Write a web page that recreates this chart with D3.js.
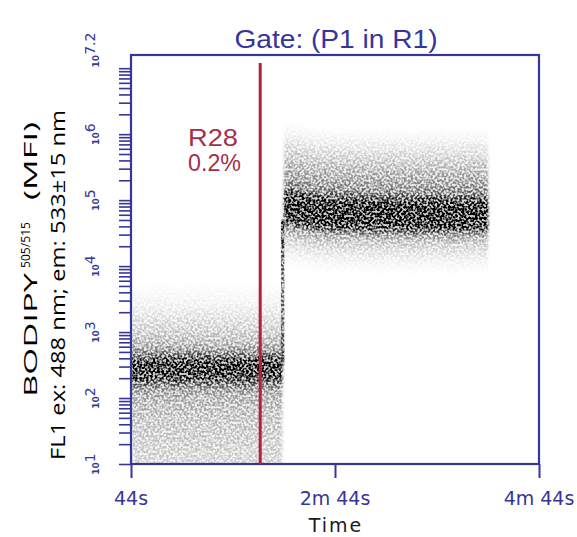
<!DOCTYPE html>
<html>
<head>
<meta charset="utf-8">
<script src="https://cdn.jsdelivr.net/npm/d3@7"></script>
<style>
  body { margin: 0; background: #fff; }
  svg { display: block; }
</style>
</head>
<body>
<svg id="chart" width="577" height="537"></svg>
<script>

// axis ticks
var decades = [1, 2, 3, 4, 5, 6, 7.2];
var xTickSec = [44, 164, 284];
var xTickLabels = ["44s", "2m 44s", "4m 44s"];

// gate line
var gateSec = 120;
var gateName = "R28";
var gatePct = "0.2%";

// density profile: offset from the bin median (decades) -> relative density
var offsets  = [-1.5,-1.4,-1.3,-1.2,-1.1,-1.0,-0.9,-0.8,-0.7,-0.6,-0.5,-0.4,-0.3,-0.2,-0.1,0,0.1,0.2,0.3,0.4,0.5,0.6,0.7,0.8,0.9,1.0,1.1,1.2,1.3];
var profile1 = [.15,.16,.17,.18,.19,.20,.21,.22,.24,.26,.28,.31,.40,.65,.88,.95,.85,.55,.34,.26,.21,.17,.14,.10,.07,.045,.03,.015,0];
var profile2 = [0,0,0,0,0,0,0,.02,.05,.09,.15,.23,.36,.78,.98,1,.98,.85,.52,.41,.35,.30,.25,.20,.15,.10,.06,.03,0];

// before dye (seconds, log10 median)
var phase1Start = [44, 50, 56, 62, 68, 74, 80, 86, 92, 98, 104, 110, 116, 122, 128];
var phase1Med   = [2.45, 2.44, 2.46, 2.45, 2.44, 2.45, 2.46, 2.45, 2.44, 2.45, 2.45, 2.44, 2.45, 2.46, 2.45];
var phase1End = 133;

// after dye
var phase2Start = [134, 140, 146, 152, 158, 164, 170, 176, 182, 188, 194, 200, 206, 212, 218, 224, 230, 236, 242, 248];
var phase2Med   = [4.88, 4.85, 4.82, 4.80, 4.79, 4.78, 4.79, 4.78, 4.77, 4.77, 4.78, 4.77, 4.76, 4.77, 4.78, 4.77, 4.76, 4.77, 4.78, 4.77];
var phase2End = 254;

// the jump
var transSec = [132.2, 134.2];
var transLog = [2.6, 2.8, 3.0, 3.2, 3.4, 3.6, 3.8, 4.0, 4.2, 4.4, 4.6];
var transDen = [.6, .55, .55, .5, .5, .5, .5, .55, .6, .65, .7];

var svg = d3.select("#chart"),
    margin = {top: 55, right: 38, bottom: 73, left: 131},
    width = +svg.attr("width") - margin.left - margin.right,
    height = +svg.attr("height") - margin.top - margin.bottom;

var blue = "#35359a";

var x = d3.scaleLinear()
    .domain([44, 284])
    .range([margin.left, margin.left + width]);

var y = d3.scaleLog()
    .domain([10, Math.pow(10, 7.2)])
    .range([margin.top + height, margin.top]);

var defs = svg.append("defs");

defs.append("clipPath").attr("id", "plotclip")
  .append("rect")
    .attr("x", margin.left).attr("y", margin.top)
    .attr("width", width).attr("height", height);

// blur the cells, then break them into speckles
function grain(id, blur, seed) {
  var f = defs.append("filter")
      .attr("id", id)
      .attr("filterUnits", "userSpaceOnUse")
      .attr("x", margin.left).attr("y", margin.top)
      .attr("width", width).attr("height", height)
      .attr("color-interpolation-filters", "sRGB");
  f.append("feGaussianBlur").attr("in", "SourceGraphic").attr("stdDeviation", blur).attr("result", "b");
  f.append("feTurbulence").attr("type", "fractalNoise").attr("baseFrequency", 0.45)
      .attr("numOctaves", 1).attr("seed", seed).attr("result", "t");
  f.append("feColorMatrix").attr("in", "t").attr("type", "matrix")
      .attr("values", "0 0 0 0 0  0 0 0 0 0  0 0 0 0 0  4 0 0 0 -1.5").attr("result", "n");
  f.append("feComposite").attr("in", "b").attr("in2", "n").attr("operator", "arithmetic")
      .attr("k1", 1.15).attr("k2", 0.22).attr("k3", 0).attr("k4", 0);
}
grain("grain", "1.8 3.4", 7);
grain("grainThin", "0.7 1.8", 11);

// density cells
var cells = [];
function addPhase(starts, meds, end, profile) {
  starts.forEach(function(t0, i) {
    var t1 = i < starts.length - 1 ? starts[i + 1] : end;
    offsets.forEach(function(o, j) {
      if (profile[j] > 0) cells.push({t0: t0, t1: t1, v: meds[i] + o, d: profile[j]});
    });
  });
}
addPhase(phase1Start, phase1Med, phase1End, profile1);
addPhase(phase2Start, phase2Med, phase2End, profile2);

var plot = svg.append("g").attr("clip-path", "url(#plotclip)");

plot.append("g")
    .attr("filter", "url(#grain)")
  .selectAll("rect")
  .data(cells)
  .enter().append("rect")
    .attr("x", function(d) { return x(d.t0); })
    .attr("width", function(d) { return x(d.t1) - x(d.t0); })
    .attr("y", function(d) { return y(Math.pow(10, d.v + 0.05)); })
    .attr("height", function(d) { return y(Math.pow(10, d.v - 0.05)) - y(Math.pow(10, d.v + 0.05)); })
    .attr("fill", "#000")
    .attr("fill-opacity", function(d) { return d.d; });

plot.append("g")
    .attr("filter", "url(#grainThin)")
  .selectAll("rect")
  .data(transLog)
  .enter().append("rect")
    .attr("x", x(transSec[0]))
    .attr("width", x(transSec[1]) - x(transSec[0]))
    .attr("y", function(d) { return y(Math.pow(10, d + 0.1)); })
    .attr("height", function(d) { return y(Math.pow(10, d - 0.1)) - y(Math.pow(10, d + 0.1)); })
    .attr("fill", "#000")
    .attr("fill-opacity", function(d, i) { return transDen[i]; });

// y ticks: 1..9 per decade
var yTicks = [];
for (var e = 1; e <= 7; e++) {
  for (var k = 1; k <= 9; k++) {
    var v = k * Math.pow(10, e);
    if (v <= Math.pow(10, 7.2)) yTicks.push(v);
  }
}

svg.append("g")
    .attr("transform", "translate(" + margin.left + ",0)")
    .call(d3.axisLeft(y).tickValues(yTicks).tickSize(12).tickFormat(""))
    .call(function(g) { g.select(".domain").remove(); })
    .call(function(g) { g.selectAll(".tick line").attr("stroke", blue).attr("stroke-width", 1.6); });

var ylab = svg.append("g").selectAll("g")
  .data(decades)
  .enter().append("g")
    .attr("transform", function(d) { return "translate(99," + (y(Math.pow(10, d)) - (d > 7 ? 5 : 0)) + ") rotate(-90)"; });
var yt = ylab.append("text")
    .attr("text-anchor", "middle")
    .attr("fill", blue)
    .style("font-family", "DejaVu Sans");
yt.append("tspan").attr("font-size", 9).attr("font-weight", "bold").text("10");
yt.append("tspan").attr("font-size", 14).attr("dy", -4).text(function(d) { return d; });

// x axis
svg.append("g")
    .attr("transform", "translate(0," + (margin.top + height) + ")")
    .call(d3.axisBottom(x).tickValues(xTickSec).tickSize(14).tickFormat(""))
    .call(function(g) { g.select(".domain").remove(); })
    .call(function(g) { g.selectAll(".tick line").attr("stroke", blue).attr("stroke-width", 2); });

svg.append("g").selectAll("text")
  .data(xTickSec)
  .enter().append("text")
    .attr("x", function(d) { return x(d); })
    .attr("y", 505)
    .attr("text-anchor", "middle")
    .attr("fill", blue)
    .style("font-family", "DejaVu Sans")
    .style("font-size", "19px")
    .text(function(d, i) { return xTickLabels[i]; });

// frame
svg.append("rect")
    .attr("x", margin.left).attr("y", margin.top)
    .attr("width", width).attr("height", height)
    .attr("fill", "none")
    .attr("stroke", blue)
    .attr("stroke-width", 2.2);

// gate
svg.append("line")
    .attr("x1", x(gateSec)).attr("x2", x(gateSec))
    .attr("y1", 63).attr("y2", margin.top + height)
    .attr("stroke", "#b3203c")
    .attr("stroke-width", 3);

svg.append("text")
    .attr("x", 188).attr("y", 146)
    .attr("fill", "#a3304a")
    .attr("textLength", 50)
    .attr("lengthAdjust", "spacingAndGlyphs")
    .style("font-family", "Liberation Sans")
    .style("font-size", "23px")
    .text(gateName);
svg.append("text")
    .attr("x", 188).attr("y", 171)
    .attr("fill", "#a3304a")
    .attr("textLength", 53)
    .attr("lengthAdjust", "spacingAndGlyphs")
    .style("font-family", "Liberation Sans")
    .style("font-size", "23px")
    .text(gatePct);

// title
svg.append("text")
    .attr("x", 336).attr("y", 48)
    .attr("text-anchor", "middle")
    .attr("fill", blue)
    .attr("textLength", 203)
    .attr("lengthAdjust", "spacingAndGlyphs")
    .style("font-family", "Liberation Sans")
    .style("font-size", "25px")
    .text("Gate: (P1 in R1)");

// axis titles
svg.append("text")
    .attr("x", 336).attr("y", 532)
    .attr("text-anchor", "middle")
    .attr("fill", "#1a1a1a")
    .style("font-family", "DejaVu Sans")
    .style("font-size", "19px")
    .style("letter-spacing", "2px")
    .text("Time");

function vtext(xp, yp, len, size, str) {
  return svg.append("text")
      .attr("transform", "translate(" + xp + "," + yp + ") rotate(-90)")
      .attr("textLength", len)
      .attr("lengthAdjust", "spacingAndGlyphs")
      .attr("fill", "#000")
      .style("font-family", "Open Sans")
      .style("font-size", size + "px")
      .text(str);
}
vtext(37, 397, 124, 19, "BODIPY");
vtext(30, 268, 46, 12, "505/515");
vtext(37, 200, 78, 19, "(MFI)");
vtext(65, 460, 350, 20, "FL1 ex: 488 nm; em: 533\u00b115 nm");

</script>
</body>
</html>
